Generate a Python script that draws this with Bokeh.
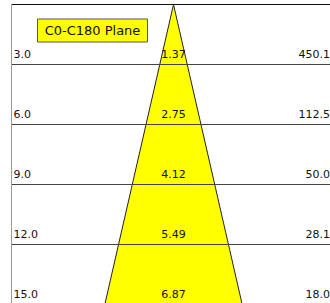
from bokeh.plotting import figure
from bokeh.models import Range1d, ColumnDataSource
from bokeh.core.properties import value
from bokeh.embed import file_html
from bokeh.resources import INLINE

# Data
distances = [3.0, 6.0, 9.0, 12.0, 15.0]
diameters = [1.37, 2.75, 4.12, 5.49, 6.87]
illuminance = [450.1, 112.5, 50.0, 28.1, 18.0]
dist_labels = ["3.0", "6.0", "9.0", "12.0", "15.0"]
diam_labels = ["1.37", "2.75", "4.12", "5.49", "6.87"]
lux_labels = ["450.1", "112.5", "50.0", "28.1", "18.0"]
plane_title = "C0-C180 Plane"

W, H = 330, 303
x_left, x_right = -8.65, 7.85
y_top, y_bottom = -0.2, 14.95

p = figure(width=W, height=H, output_backend="svg", toolbar_location=None,
           x_range=Range1d(x_left, x_right), y_range=Range1d(y_bottom, y_top),
           min_border=0, min_border_left=0, min_border_right=0,
           min_border_top=0, min_border_bottom=0)
p.axis.visible = False
p.grid.visible = False
p.outline_line_color = None
p.background_fill_color = "white"
p.border_fill_color = "white"

FONT = value("DejaVu Sans")
border_x = -8.1

# cone (beam) from apex to beyond the farthest distance
far = distances[-1]
far_half = diameters[-1] / 2
p.patch(x=[0, -far_half, far_half], y=[0, far, far],
        fill_color="#FFFF00", line_color="#222222", line_width=1)

# horizontal distance lines
src = ColumnDataSource(dict(
    d=distances,
    x0=[border_x] * len(distances),
    x1=[x_right] * len(distances),
    ly=[d - 0.55 for d in distances],
    dist=dist_labels, diam=diam_labels, lux=lux_labels,
))
p.segment(x0="x0", y0="d", x1="x1", y1="d", source=src,
          line_color="#444444", line_width=1)

# top border and left border
p.segment(x0=[border_x], y0=[0], x1=[x_right], y1=[0], line_color="#111111", line_width=1.2)
p.segment(x0=[border_x], y0=[0], x1=[border_x], y1=[y_bottom], line_color="#999999", line_width=1)

# labels
p.text(x=border_x + 0.1, y="ly", text="dist", source=src, text_font=FONT,
       text_font_size="11px", text_align="left", text_baseline="middle", text_color="#111111")
p.text(x=0, y="ly", text="diam", source=src, text_font=FONT,
       text_font_size="11px", text_align="center", text_baseline="middle", text_color="#111111")
p.text(x=x_right - 0.03, y="ly", text="lux", source=src, text_font=FONT,
       text_font_size="11px", text_align="right", text_baseline="middle", text_color="#111111")

# plane title box
bx, by = -4.05, 1.3
p.rect(x=[bx], y=[by], width=110, height=23, width_units="screen", height_units="screen",
       fill_color="#FFFF00", line_color="#555555", line_width=1)
p.text(x=[bx], y=[by], text=[plane_title], text_font=FONT, text_font_size="13px",
       text_align="center", text_baseline="middle", text_color="#111111")

open("out.html", "w").write(file_html(p, INLINE))
